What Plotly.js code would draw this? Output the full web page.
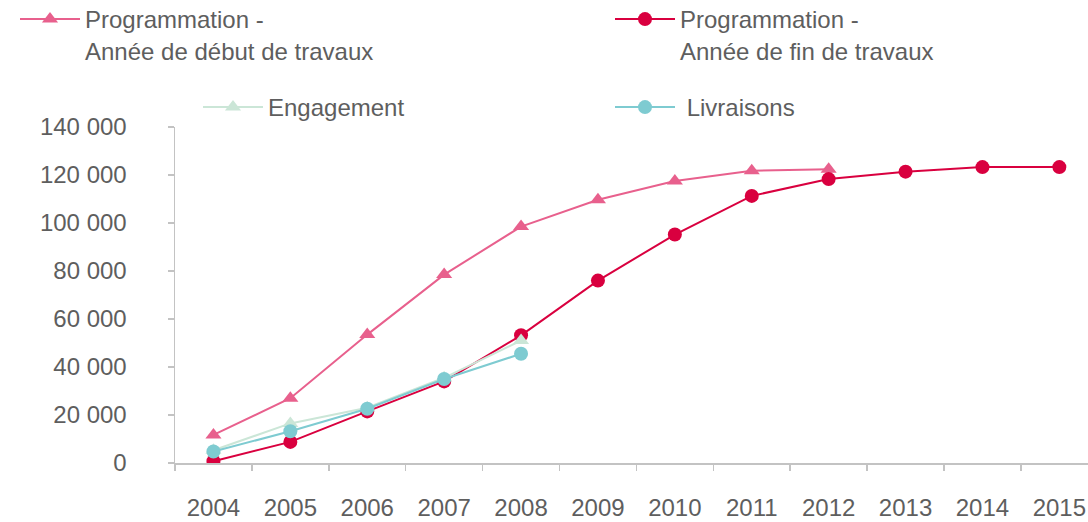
<!DOCTYPE html>
<html>
<head>
<meta charset="utf-8">
<script src="https://cdn.plot.ly/plotly-3.0.1.min.js"></script>
<style>html,body{margin:0;padding:0;background:#fff;}#chart{width:1088px;height:522px;}</style>
</head>
<body>
<div id="chart"></div>
<script>
const years = ["2004","2005","2006","2007","2008","2009","2010","2011","2012","2013","2014","2015"];
const debutTravaux = [11700, 27000, 53500, 78500, 98500, 109700, 117500, 121800, 122400];
const finTravaux = [700, 8800, 21500, 34000, 53200, 76000, 95200, 111300, 118300, 121400, 123300, 123300];
const engagement = [5300, 16500, 23000, 35500, 51000];
const livraisons = [4800, 13200, 22600, 35000, 45500];
const yTicks = [0, 20000, 40000, 60000, 80000, 100000, 120000, 140000];

const FONT = "Liberation Sans, Arial, Helvetica, sans-serif";
const TXT = "#5e5e5e";
const AX = "#c3c3c3";

// plot area geometry (px) for placing legends
const L = 175, T = 127, W = 913, H = 336;
function px2x(p){ return (p - L) / W; }
function py2y(p){ return (T + H - p) / H; }

const traces = [
  {x: years.slice(0, debutTravaux.length), y: debutTravaux, type: "scatter", mode: "lines+markers",
   name: "Programmation -<br>Année de début de travaux", legend: "legend",
   line: {color: "#e8608d", width: 2}, marker: {symbol: "triangle-up", size: 14, color: "#e8608d"}},
  {x: years.slice(0, finTravaux.length), y: finTravaux, type: "scatter", mode: "lines+markers",
   name: "Programmation -<br>Année de fin de travaux", legend: "legend2",
   line: {color: "#d9003f", width: 2}, marker: {symbol: "circle", size: 14, color: "#d9003f"}},
  {x: years.slice(0, engagement.length), y: engagement, type: "scatter", mode: "lines+markers",
   name: "Engagement", legend: "legend3",
   line: {color: "#cbe6d7", width: 2}, marker: {symbol: "triangle-up", size: 14, color: "#cbe6d7"}},
  {x: years.slice(0, livraisons.length), y: livraisons, type: "scatter", mode: "lines+markers",
   name: " Livraisons", legend: "legend4",
   line: {color: "#7ecbd1", width: 2}, marker: {symbol: "circle", size: 14, color: "#7ecbd1"}}
];

function leg(xp, yp){
  return {x: px2x(xp), y: py2y(yp), xanchor: "left", yanchor: "top", itemwidth: 60,
          valign: "top", bgcolor: "rgba(0,0,0,0)", borderwidth: 0,
          font: {family: FONT, size: 24, color: TXT}, tracegroupgap: 0};
}

const layout = {
  width: 1088, height: 522,
  margin: {l: L, r: 0, t: T, b: 522 - T - H, pad: 0, autoexpand: false},
  paper_bgcolor: "#ffffff", plot_bgcolor: "#ffffff",
  separators: ", ",
  font: {family: FONT, size: 24, color: TXT},
  showlegend: true,
  legend: leg(15, -3),
  legend2: leg(610, -3),
  legend3: leg(198, 85),
  legend4: leg(610, 85),
  xaxis: {
    type: "category", categoryorder: "array", categoryarray: years,
    range: [-0.5, -0.5 + W / 76.9],
    showline: true, linecolor: AX, linewidth: 1.5,
    ticks: "outside", tickson: "boundaries", ticklen: 6, tickcolor: AX, tickwidth: 1.5,
    showgrid: false, zeroline: false,
    tickfont: {family: FONT, size: 24, color: TXT},
    ticklabelstandoff: 23
  },
  yaxis: {
    range: [0, 140000], tickvals: yTicks, tickformat: ",d",
    showline: true, linecolor: AX, linewidth: 1.5,
    ticks: "outside", ticklen: 6, tickcolor: AX, tickwidth: 1.5,
    showgrid: false, zeroline: false,
    tickfont: {family: FONT, size: 24, color: TXT},
    ticklabelstandoff: 36
  }
};

Plotly.newPlot("chart", traces, layout, {displayModeBar: false, staticPlot: true});
</script>
</body>
</html>
